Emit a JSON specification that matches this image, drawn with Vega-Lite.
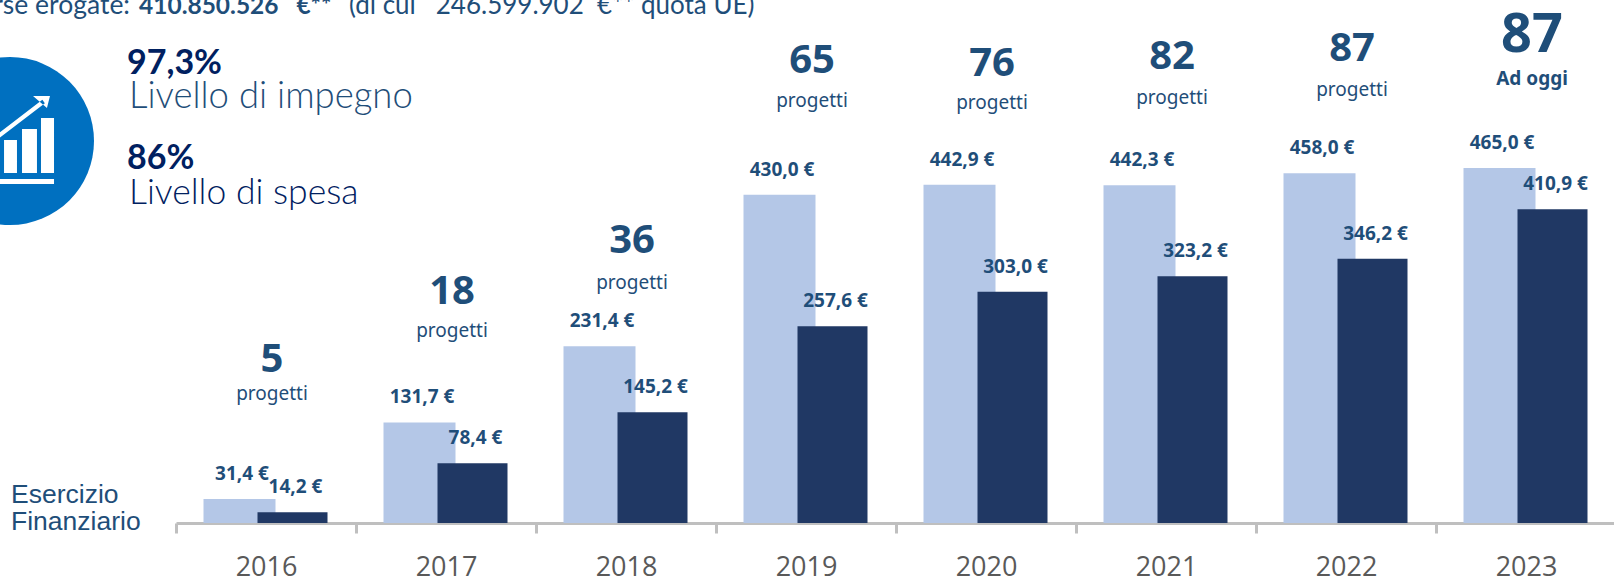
{
"$schema":"https://vega.github.io/schema/vega-lite/v6.json",
"width":1614,"height":523,
"padding":{"left":0,"top":0,"right":0,"bottom":56},
"autosize":{"type":"none"},
"background":"white",
"config":{"view":{"stroke":null}},
"data":{"values":[
{"anno":2016,"impegnate":31.4,"erogate":14.2,"progetti":5,"etichetta":"progetti"},
{"anno":2017,"impegnate":131.7,"erogate":78.4,"progetti":18,"etichetta":"progetti"},
{"anno":2018,"impegnate":231.4,"erogate":145.2,"progetti":36,"etichetta":"progetti"},
{"anno":2019,"impegnate":430.0,"erogate":257.6,"progetti":65,"etichetta":"progetti"},
{"anno":2020,"impegnate":442.9,"erogate":303.0,"progetti":76,"etichetta":"progetti"},
{"anno":2021,"impegnate":442.3,"erogate":323.2,"progetti":82,"etichetta":"progetti"},
{"anno":2022,"impegnate":458.0,"erogate":346.2,"progetti":87,"etichetta":"progetti"},
{"anno":2023,"impegnate":465.0,"erogate":410.9,"progetti":87,"etichetta":"Ad oggi"}
]},
"encoding":{"x":{"field":"anno","type":"ordinal","title":null,
"scale":{"domain":[2016,2017,2018,2019,2020,2021,2022,2023],"range":[176,1616],"paddingInner":0,"paddingOuter":0},
"axis":{"domainColor":"#BFBFBF","domainWidth":3,"tickColor":"#BFBFBF","tickWidth":3,"tickSize":10,"tickBand":"extent","labelFont":"Open Sans","labelFontSize":27,"labelColor":"#595959","labelPadding":21,"labelAngle":0,"grid":false,"labelOverlap":false}}},
"resolve":{"scale":{"y":"independent"}},
"layer":[
{"layer":[
 {"mark":{"type":"bar","width":72,"xOffset":-26.5,"color":"#B4C7E7"},"encoding":{"y":{"field":"impegnate","type":"quantitative","scale":{"domain":[0,685],"range":[523,0],"nice":false},"axis":null}}},
 {"mark":{"type":"bar","width":70,"xOffset":26.5,"color":"#203864"},"encoding":{"y":{"field":"erogate","type":"quantitative","axis":null}}},
 {"transform":[{"calculate":"replace(format(datum.impegnate,'.1f'),'.',',')+' €'","as":"t"}],"mark":{"type":"text","font":"Noto Sans","fontWeight":"bold","fontSize":19,"color":"#1F4E79","baseline":"middle","xOffset":-24,"dy":-25},"encoding":{"y":{"field":"impegnate","type":"quantitative","axis":null},"text":{"field":"t"}}},
 {"transform":[{"calculate":"replace(format(datum.erogate,'.1f'),'.',',')+' €'","as":"t"}],"mark":{"type":"text","font":"Noto Sans","fontWeight":"bold","fontSize":19,"color":"#1F4E79","baseline":"middle","xOffset":29.5,"dy":-25},"encoding":{"y":{"field":"erogate","type":"quantitative","axis":null},"text":{"field":"t"}}},
 {"data":{"values":[{"v":"c"}]},"mark":{"type":"point","shape":"circle","filled":true,"size":28224,"color":"#0070C0","opacity":1,"xOffset":-166,"yOffset":-382},"encoding":{"x":{"datum":2016,"type":"ordinal","bandPosition":0},"y":{"datum":0,"type":"quantitative","axis":null}}},
 {"data":{"values":[{"v":"g"}]},"mark":{"type":"point","filled":true,"size":28224,"color":"white","opacity":1,"xOffset":-166,"yOffset":-382,"shape":"M-0.071 -0.012H0.083V0.381H-0.071ZM0.143 -0.143H0.321V0.381H0.143ZM0.369 -0.274H0.524V0.381H0.369ZM-0.5 0.452H0.524V0.512H-0.5ZM-0.485 0.24L0.415 -0.45L0.385 -0.49L-0.515 0.2ZM0.274 -0.536H0.476L0.44 -0.393Z"},"encoding":{"x":{"datum":2016,"type":"ordinal","bandPosition":0},"y":{"datum":0,"type":"quantitative","axis":null}}},
 {"data":{"values":[{"t":"Esercizio\nFinanziario"}]},"mark":{"type":"text","font":"Liberation Sans","fontSize":26.5,"lineHeight":27,"lineBreak":"\n","color":"#1F4E79","align":"left","baseline":"alphabetic","xOffset":-165,"yOffset":-20},"encoding":{"x":{"datum":2016,"type":"ordinal","bandPosition":0},"y":{"datum":0,"type":"quantitative","axis":null},"text":{"field":"t"}}},
 {"data":{"values":[{"t":"Risorse erogate:"}]},"mark":{"type":"text","font":"Lato","fontSize":26.5,"color":"#1F4E79","align":"right","baseline":"alphabetic","xOffset":-46,"yOffset":-509},"encoding":{"x":{"datum":2016,"type":"ordinal","bandPosition":0},"y":{"datum":0,"type":"quantitative","axis":null},"text":{"field":"t"}}},
 {"data":{"values":[{"t":"410.850.526\u00a0\u00a0\u00a0€**"}]},"mark":{"type":"text","font":"Lato","fontWeight":"bold","fontSize":24.5,"color":"#1F4E79","align":"left","baseline":"alphabetic","xOffset":-37,"yOffset":-509},"encoding":{"x":{"datum":2016,"type":"ordinal","bandPosition":0},"y":{"datum":0,"type":"quantitative","axis":null},"text":{"field":"t"}}},
 {"data":{"values":[{"t":"(di cui\u00a0\u00a0\u00a0246.599.902\u00a0\u00a0€** quota UE)"}]},"mark":{"type":"text","font":"Lato","fontSize":26,"color":"#1F4E79","align":"left","baseline":"alphabetic","xOffset":173,"yOffset":-509},"encoding":{"x":{"datum":2016,"type":"ordinal","bandPosition":0},"y":{"datum":0,"type":"quantitative","axis":null},"text":{"field":"t"}}},
 {"data":{"values":[{"t":"97,3%"}]},"mark":{"type":"text","font":"Lato","fontWeight":"bold","fontSize":34,"color":"#002060","align":"left","baseline":"alphabetic","xOffset":-49,"yOffset":-449},"encoding":{"x":{"datum":2016,"type":"ordinal","bandPosition":0},"y":{"datum":0,"type":"quantitative","axis":null},"text":{"field":"t"}}},
 {"data":{"values":[{"t":"Livello di impegno"}]},"mark":{"type":"text","font":"Lato","fontWeight":300,"fontSize":36.5,"color":"#1F4E79","align":"left","baseline":"alphabetic","xOffset":-47,"yOffset":-415},"encoding":{"x":{"datum":2016,"type":"ordinal","bandPosition":0},"y":{"datum":0,"type":"quantitative","axis":null},"text":{"field":"t"}}},
 {"data":{"values":[{"t":"86%"}]},"mark":{"type":"text","font":"Lato","fontWeight":"bold","fontSize":34,"color":"#002060","align":"left","baseline":"alphabetic","xOffset":-49,"yOffset":-354},"encoding":{"x":{"datum":2016,"type":"ordinal","bandPosition":0},"y":{"datum":0,"type":"quantitative","axis":null},"text":{"field":"t"}}},
 {"data":{"values":[{"t":"Livello di spesa"}]},"mark":{"type":"text","font":"Lato","fontWeight":300,"fontSize":35.5,"color":"#002060","align":"left","baseline":"alphabetic","xOffset":-47,"yOffset":-319},"encoding":{"x":{"datum":2016,"type":"ordinal","bandPosition":0},"y":{"datum":0,"type":"quantitative","axis":null},"text":{"field":"t"}}}
]},
{"mark":{"type":"text","font":"Noto Sans","fontWeight":"bold","color":"#1F4E79","baseline":"middle","xOffset":6},"encoding":{"y":{"field":"anno","type":"quantitative","axis":null,"scale":{"domain":[2016,2017,2018,2019,2020,2021,2022,2023],"range":[360,292,241,61,64,57,49,36]}},"text":{"field":"progetti","type":"quantitative"},"size":{"condition":{"test":"datum.anno==2023","value":54},"value":40}}},
{"transform":[{"filter":"datum.anno!=2023"}],"mark":{"type":"text","font":"Noto Sans","fontSize":19,"color":"#1F4E79","baseline":"middle","xOffset":6},"encoding":{"y":{"field":"anno","type":"quantitative","axis":null,"scale":{"domain":[2016,2017,2018,2019,2020,2021,2022,2023],"range":[394,331,283,101,103,98,90,79]}},"text":{"field":"etichetta"}}},
{"transform":[{"filter":"datum.anno==2023"}],"mark":{"type":"text","font":"Noto Sans","fontWeight":"bold","fontSize":19,"color":"#1F4E79","baseline":"middle","xOffset":6},"encoding":{"y":{"field":"anno","type":"quantitative","axis":null,"scale":{"domain":[2016,2017,2018,2019,2020,2021,2022,2023],"range":[394,331,283,101,103,98,90,79]}},"text":{"field":"etichetta"}}}
]
}
